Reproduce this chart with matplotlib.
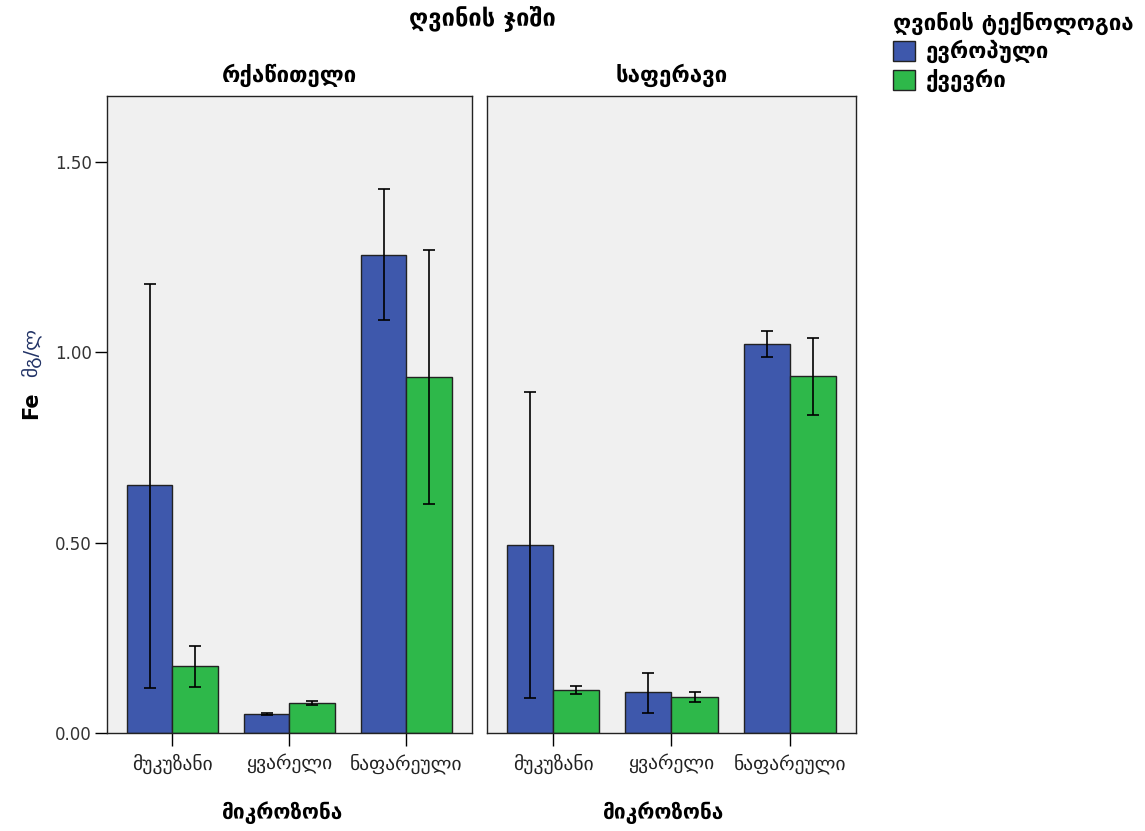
import numpy as np
import matplotlib.pyplot as plt

# Fe content (mg/l) by micro-zone, wine variety and technology
zones = ["მუკუზანი", "ყვარელი", "ნაფარეული"]
varieties = ["რქაწითელი", "საფერავი"]
technologies = ["ევროპული", "ქვევრი"]

# means, [variety][technology][zone]
fe_mean = [
    [[0.651, 0.050, 1.255], [0.176, 0.079, 0.934]],
    [[0.493, 0.107, 1.022], [0.113, 0.094, 0.937]],
]
# error bar limits
fe_low = [
    [[0.118, 0.048, 1.084], [0.121, 0.073, 0.601]],
    [[0.093, 0.053, 0.988], [0.102, 0.081, 0.836]],
]
fe_high = [
    [[1.178, 0.052, 1.428], [0.228, 0.084, 1.268]],
    [[0.895, 0.158, 1.054], [0.124, 0.108, 1.037]],
]

colors = ["#3E58AC", "#2EB84A"]
font = ["DejaVu Sans"]

fig = plt.figure(figsize=(11.45, 8.31), dpi=100)
axes_pos = [[0.0934, 0.1179, 0.3188, 0.7665], [0.4253, 0.1179, 0.3223, 0.7665]]

x = np.arange(len(zones))
w = 0.39
for i, var in enumerate(varieties):
    ax = fig.add_axes(axes_pos[i])
    ax.set_facecolor("#F0F0F0")
    for j, tech in enumerate(technologies):
        m = np.array(fe_mean[i][j])
        lo = m - np.array(fe_low[i][j])
        hi = np.array(fe_high[i][j]) - m
        pos = x - w / 2 + j * w
        ax.bar(pos, m, width=w, color=colors[j], edgecolor="#222222",
               linewidth=1.0, label=tech, zorder=2)
        ax.errorbar(pos, m, yerr=[lo, hi], fmt="none", ecolor="black",
                    elinewidth=1.2, capsize=4.5, capthick=1.2, zorder=3)
    ax.set_xlim(-0.56, 2.56)
    ax.set_ylim(0, 1.672)
    ax.set_xticks(x)
    ax.set_xticklabels(zones, fontsize=14, family=font, color="#222222")
    ax.tick_params(axis="x", length=9, width=1, pad=6)
    for s in ax.spines.values():
        s.set_linewidth(1.0)
        s.set_color("#222222")
    if i == 0:
        ax.set_yticks([0, 0.5, 1.0, 1.5])
        ax.set_yticklabels(["0.00", "0.50", "1.00", "1.50"], fontsize=12,
                           color="#333333")
        ax.tick_params(axis="y", length=9, width=1, pad=2)
    else:
        ax.set_yticks([])
    ax.text(0.5, 1.015, var, transform=ax.transAxes, ha="center", va="bottom",
            fontsize=16, fontweight="bold", family=font)
    ax.text(0.48, -0.125, "მიკროზონა", transform=ax.transAxes, ha="center",
            va="center", fontsize=15, fontweight="bold", family=font)

fig.text(0.421, 0.978, "ღვინის ჯიში", ha="center", va="center",
         fontsize=17, fontweight="bold", family=font)

# y-axis label
fig.text(0.027, 0.512, "Fe", rotation=90, ha="center", va="center",
         fontsize=15, fontweight="bold")
fig.text(0.027, 0.576, "მგ/ლ", rotation=90, ha="center", va="center",
         fontsize=14, color="#223366", family=font)

# legend
handles = [plt.Rectangle((0, 0), 1, 1, facecolor=c, edgecolor="#222222")
           for c in colors]
leg = fig.legend(handles, technologies, loc="upper left",
                 bbox_to_anchor=(0.772, 0.997), frameon=False,
                 title="ღვინის ტექნოლოგია", alignment="left",
                 prop={"family": font, "size": 16, "weight": "bold"},
                 title_fontproperties={"family": font, "size": 16,
                                       "weight": "bold"},
                 handlelength=1.0, handleheight=1.0, handletextpad=0.5,
                 labelspacing=0.25, borderaxespad=0)

fig.savefig("out.png", dpi=100)
